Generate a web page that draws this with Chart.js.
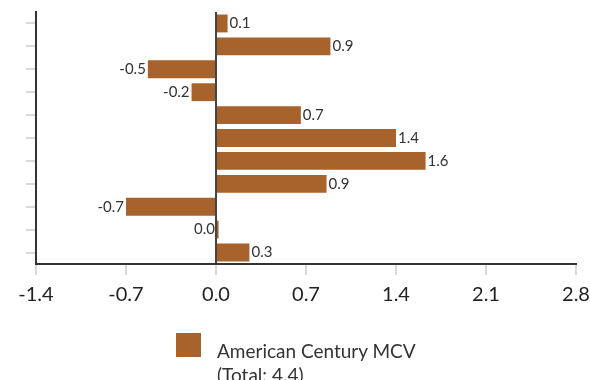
<!DOCTYPE html>
<html>
<head>
<meta charset="utf-8">
<script src="https://cdn.jsdelivr.net/npm/chart.js@4/dist/chart.umd.min.js"></script>
<style>
  html, body { margin: 0; padding: 0; background: #fff; }
  #wrap { position: relative; width: 590px; height: 380px; overflow: hidden; }
  #c { position: absolute; left: 0; top: 0; }
  #legend { position: absolute; left: 176px; top: 333px; font-family: Lato, "Open Sans", sans-serif; font-size: 19px; color: #333; }
  #legend .box { position: absolute; left: 0; top: 0; width: 25px; height: 24px; }
  #legend .txt { position: absolute; left: 41px; top: 6px; line-height: 24px; white-space: nowrap; }
</style>
</head>
<body>
<div id="wrap">
  <canvas id="c" width="590" height="380"></canvas>
  <div id="legend"><div class="box"></div><div class="txt"></div></div>
</div>
<script>
const categories = ["1", "2", "3", "4", "5", "6", "7", "8", "9", "10", "11"];
const seriesName = "American Century MCV";
const seriesTotal = "(Total: 4.4)";
const values = [0.09, 0.89, -0.53, -0.19, 0.66, 1.40, 1.63, 0.86, -0.70, 0.02, 0.26];
const xTickValues = [-1.4, -0.7, 0.0, 0.7, 1.4, 2.1, 2.8];
const barColor = "#a8622b";

document.querySelector('#legend .box').style.background = barColor;
document.querySelector('#legend .txt').innerHTML = seriesName + '<br>' + seriesTotal;

const valueLabels = {
  id: 'valueLabels',
  afterDatasetsDraw(chart) {
    const ctx = chart.ctx;
    const meta = chart.getDatasetMeta(0);
    ctx.save();
    ctx.font = '15px Lato, "Open Sans", sans-serif';
    ctx.fillStyle = '#333';
    ctx.textBaseline = 'middle';
    meta.data.forEach((bar, i) => {
      const v = chart.data.datasets[0].data[i];
      const txt = v.toFixed(1);
      const leftSide = v < 0 || Math.abs(v) < 0.05;
      if (leftSide) {
        ctx.textAlign = 'right';
        const xEdge = Math.min(bar.x, bar.base);
        ctx.fillText(txt, xEdge - 2, bar.y);
      } else {
        ctx.textAlign = 'left';
        ctx.fillText(txt, bar.x + 2, bar.y);
      }
    });
    ctx.restore();
  }
};

new Chart(document.getElementById('c'), {
  type: 'bar',
  data: {
    labels: categories,
    datasets: [{
      label: seriesName,
      data: values,
      backgroundColor: barColor,
      borderWidth: 0,
      barPercentage: 0.78,
      categoryPercentage: 1.0
    }]
  },
  options: {
    indexAxis: 'y',
    responsive: false,
    animation: false,
    layout: { padding: { top: 12, right: 14, left: 0, bottom: 0 } },
    plugins: {
      legend: { display: false },
      tooltip: { enabled: false }
    },
    scales: {
      x: {
        min: -1.4,
        max: 2.8,
        afterBuildTicks(scale) { scale.ticks = xTickValues.map(v => ({ value: v })); },
        afterFit(scale) { scale.height = 380 - 264; scale.paddingLeft = 0; scale.paddingRight = 0; },
        ticks: {
          callback: v => Number(v).toFixed(1),
          font: { family: 'Lato, "Open Sans", sans-serif', size: 20 },
          color: '#222',
          padding: 8,
          maxRotation: 0
        },
        grid: {
          color: ctx => (ctx.tick && ctx.tick.value === 0) ? '#444' : 'rgba(0,0,0,0)',
          tickColor: '#d9d9d9',
          lineWidth: 2,
          tickLength: 11,
          drawOnChartArea: true
        },
        border: { display: true, color: '#333', width: 2 }
      },
      y: {
        afterFit(scale) { scale.width = 36; },
        ticks: { display: false },
        grid: {
          offset: false,
          drawOnChartArea: false,
          color: '#d9d9d9',
          lineWidth: 2,
          tickLength: 10
        },
        border: { display: true, color: '#333', width: 2 }
      }
    }
  },
  plugins: [valueLabels]
});
</script>
</body>
</html>
